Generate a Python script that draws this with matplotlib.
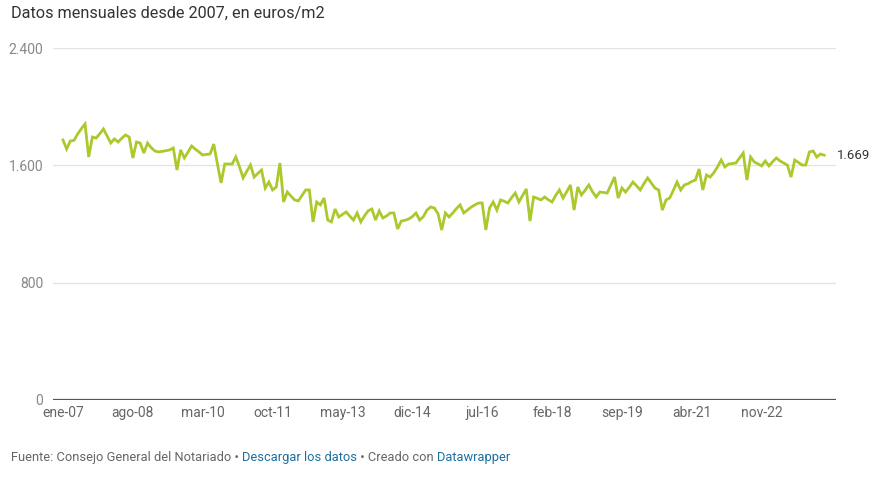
import matplotlib
matplotlib.use("Agg")
import matplotlib.pyplot as plt

# Precio medio de la vivienda, euros/m2, mensual desde ene-2007
PRICES = [
    1773, 1711, 1766, 1770, 1814, 1850, 1882, 1657, 1793, 1786, 1815, 1848,  # 2007
    1800, 1752, 1780, 1759, 1785, 1807, 1793, 1650, 1759, 1752, 1684, 1752,  # 2008
    1720, 1698, 1691, 1695, 1700, 1705, 1718, 1568, 1705, 1650, 1690, 1732,  # 2009
    1710, 1691, 1670, 1675, 1677, 1745, 1610, 1480, 1609, 1609, 1609, 1657,  # 2010
    1590, 1514, 1560, 1602, 1520, 1545, 1568, 1445, 1486, 1432, 1452, 1616,  # 2011
    1350, 1418, 1390, 1364, 1357, 1395, 1432, 1432, 1214, 1350, 1330, 1377,  # 2012
    1227, 1214, 1302, 1248, 1265, 1282, 1255, 1227, 1275, 1214, 1255, 1290,  # 2013
    1302, 1227, 1289, 1241, 1255, 1275, 1275, 1166, 1220, 1225, 1234, 1250,  # 2014
    1275, 1227, 1250, 1295, 1316, 1309, 1270, 1159, 1275, 1248, 1275, 1305,  # 2015
    1330, 1275, 1295, 1315, 1330, 1343, 1343, 1159, 1309, 1350, 1295, 1364,  # 2016
    1355, 1343, 1380, 1411, 1350, 1395, 1439, 1220, 1384, 1375, 1364, 1384,  # 2017
    1365, 1350, 1395, 1432, 1377, 1420, 1466, 1295, 1452, 1398, 1430, 1466,  # 2018
    1420, 1384, 1418, 1415, 1411, 1465, 1520, 1377, 1445, 1418, 1450, 1486,  # 2019
    1460, 1432, 1475, 1514, 1480, 1445, 1432, 1295, 1364, 1377, 1430, 1486,  # 2020
    1432, 1466, 1475, 1490, 1500, 1575, 1432, 1534, 1520, 1550, 1589, 1636,  # 2021
    1589, 1609, 1612, 1616, 1650, 1684, 1500, 1657, 1623, 1610, 1596, 1630,  # 2022
    1596, 1625, 1650, 1630, 1616, 1602, 1520, 1636, 1620, 1602, 1602, 1691,  # 2023
    1698, 1657, 1677, 1669,                                                  # 2024
]

TICK_LABELS = ["ene-07", "ago-08", "mar-10", "oct-11", "may-13", "dic-14",
               "jul-16", "feb-18", "sep-19", "abr-21", "nov-22"]
TICK_STEP = 19  # meses entre etiquetas
Y_TICKS = [0, 800, 1600, 2400]
Y_LABELS = ["0", "800", "1.600", "2.400"]

TITLE = "Datos mensuales desde 2007, en euros/m2"
LAST_LABEL = "1.669"

LINE_COLOR = "#aac92c"
TEXT_COLOR = "#333333"
GRAY = "#666666"
LINK = "#1d6fa0"

plt.rcParams["font.family"] = ["Roboto", "DejaVu Sans"]

fig = plt.figure(figsize=(8.84, 4.8), dpi=100)
ax = fig.add_axes([0.06, 0.1667, 0.886, 0.7333])

months = list(range(len(PRICES)))
ax.plot(months, PRICES, color=LINE_COLOR, linewidth=2.0, solid_joinstyle="miter",
        zorder=3)

ax.set_ylim(0, 2400)
ax.set_xlim(-2.7, len(PRICES) - 1 + 3.3)

# rejilla horizontal
for v in Y_TICKS[1:]:
    ax.axhline(v, color="#e3e3e3", linewidth=0.9, zorder=1)
ax.axhline(0, color="#555555", linewidth=1.6, zorder=2)

ax.set_yticks(Y_TICKS)
ax.set_yticklabels(Y_LABELS)
ax.set_xticks([i * TICK_STEP for i in range(len(TICK_LABELS))])
ax.set_xticklabels(TICK_LABELS)
ax.tick_params(axis="y", length=0, pad=7, labelsize=10, labelcolor="#888888")
ax.tick_params(axis="x", length=0, pad=4, labelsize=10, labelcolor=GRAY)

for s in ax.spines.values():
    s.set_visible(False)

# etiqueta del ultimo valor
ax.annotate(LAST_LABEL, xy=(months[-1], PRICES[-1]), xytext=(9, 0),
            textcoords="offset points", va="center", ha="left",
            fontsize=9.5, color=TEXT_COLOR)

fig.text(0.012, 0.972, TITLE, fontsize=11.7, color=TEXT_COLOR, va="center", ha="left")

# pie con enlaces
parts = [("Fuente: Consejo General del Notariado \u2022 ", GRAY),
         ("Descargar los datos", LINK),
         (" \u2022 Creado con ", GRAY),
         ("Datawrapper", LINK)]
renderer = fig.canvas.get_renderer()
x = 0.012
for txt, col in parts:
    t = fig.text(x, 0.047, txt, fontsize=9.3, color=col, va="center", ha="left")
    bb = t.get_window_extent(renderer=renderer)
    x += bb.width / fig.bbox.width

fig.savefig("out.png", dpi=100, facecolor="white")
